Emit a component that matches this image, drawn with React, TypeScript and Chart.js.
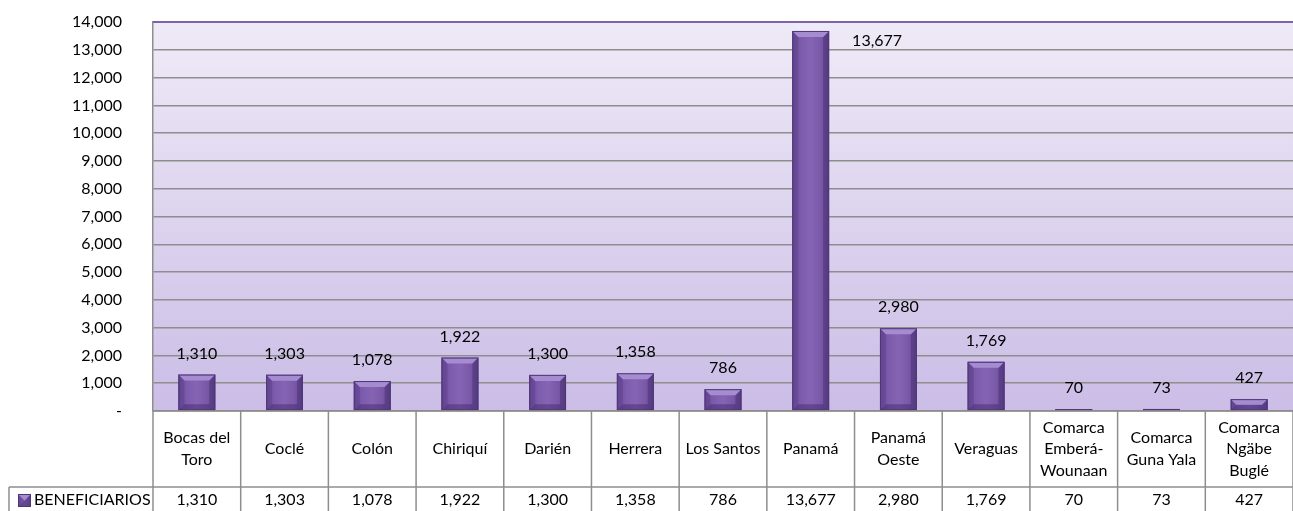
import React, { useEffect, useRef } from "react";
import { Chart, registerables } from "chart.js";

Chart.register(...registerables);

const categories: string[][] = [
  ["Bocas del", "Toro"],
  ["Coclé"],
  ["Colón"],
  ["Chiriquí"],
  ["Darién"],
  ["Herrera"],
  ["Los Santos"],
  ["Panamá"],
  ["Panamá", "Oeste"],
  ["Veraguas"],
  ["Comarca", "Emberá-", "Wounaan"],
  ["Comarca", "Guna Yala"],
  ["Comarca", "Ngäbe", "Buglé"],
];
const values: number[] = [1310, 1303, 1078, 1922, 1300, 1358, 786, 13677, 2980, 1769, 70, 73, 427];
const seriesName = "BENEFICIARIOS";
const yMin = 0;
const yMax = 14000;
const yStep = 1000;

const FONT = "Lato, 'Open Sans', sans-serif";
const FS = 16;
const GRID = "#8e8e8e";

const fmt = (v: number) => (v === 0 ? "-" : v.toLocaleString("en-US"));

function drawBevelBar(ctx: CanvasRenderingContext2D, left: number, top: number, right: number, bottom: number) {
  const w = right - left;
  const h = bottom - top;
  if (h <= 0 || w <= 0) return;
  const b = Math.min(6, h / 2, w / 2);
  const g = ctx.createLinearGradient(left, 0, right, 0);
  g.addColorStop(0, "#6b4c99");
  g.addColorStop(0.25, "#7d5cad");
  g.addColorStop(0.5, "#8564b4");
  g.addColorStop(0.75, "#7b5aaa");
  g.addColorStop(1, "#654794");
  ctx.fillStyle = g;
  ctx.fillRect(left, top, w, h);
  ctx.fillStyle = "rgba(70,45,115,0.25)";
  ctx.beginPath();
  ctx.moveTo(left, top);
  ctx.lineTo(left + b, top + b);
  ctx.lineTo(left + b, bottom - b);
  ctx.lineTo(left, bottom);
  ctx.closePath();
  ctx.fill();
  ctx.fillStyle = "rgba(55,35,95,0.35)";
  ctx.beginPath();
  ctx.moveTo(right, top);
  ctx.lineTo(right - b, top + b);
  ctx.lineTo(right - b, bottom - b);
  ctx.lineTo(right, bottom);
  ctx.closePath();
  ctx.fill();
  ctx.fillStyle = "rgba(60,38,100,0.45)";
  ctx.beginPath();
  ctx.moveTo(left, bottom);
  ctx.lineTo(right, bottom);
  ctx.lineTo(right - b, bottom - b);
  ctx.lineTo(left + b, bottom - b);
  ctx.closePath();
  ctx.fill();
  ctx.fillStyle = "#a58cd0";
  ctx.beginPath();
  ctx.moveTo(left, top);
  ctx.lineTo(right, top);
  ctx.lineTo(right - b, top + b);
  ctx.lineTo(left + b, top + b);
  ctx.closePath();
  ctx.fill();
  ctx.strokeStyle = "#4f3777";
  ctx.lineWidth = 1;
  ctx.strokeRect(left + 0.5, top + 0.5, w - 1, h - 1);
}

const bgPlugin = {
  id: "bgPlugin",
  beforeDraw(chart: any) {
    const { ctx, chartArea: a, width, height } = chart;
    ctx.save();
    ctx.fillStyle = "#ffffff";
    ctx.fillRect(0, 0, width, height);
    const g = ctx.createLinearGradient(0, a.top, 0, a.bottom);
    g.addColorStop(0, "#efeaf7");
    g.addColorStop(1, "#cbbde6");
    ctx.fillStyle = g;
    ctx.fillRect(a.left, a.top, a.right - a.left, a.bottom - a.top);
    ctx.restore();
  },
  afterDatasetsDraw(chart: any) {
    const { ctx, chartArea: a } = chart;
    const meta = chart.getDatasetMeta(0);
    ctx.save();
    ctx.strokeStyle = "#7e62ab";
    ctx.lineWidth = 2;
    ctx.beginPath();
    ctx.moveTo(a.left, a.top);
    ctx.lineTo(a.right, a.top);
    ctx.stroke();
    meta.data.forEach((el: any, i: number) => {
      const p = el.getProps(["x", "y", "base", "width"], true);
      const left = p.x - p.width / 2;
      const right = p.x + p.width / 2;
      drawBevelBar(ctx, left, Math.min(p.y, p.base), right, Math.max(p.y, p.base));
      const label = fmt(values[i]);
      ctx.font = `${FS}px ${FONT}`;
      ctx.fillStyle = "#000";
      ctx.textBaseline = "middle";
      if (p.y - 21 - 10 < a.top) {
        ctx.textAlign = "left";
        ctx.fillText(label, right + 23, p.y + 10);
      } else {
        ctx.textAlign = "center";
        ctx.fillText(label, p.x, p.y - 21);
      }
    });
    ctx.restore();
  },
  afterDraw(chart: any) {
    const { ctx, chartArea: a, height } = chart;
    const xs = chart.scales.x;
    const n = categories.length;
    const bounds: number[] = [a.left];
    for (let i = 0; i < n - 1; i++) {
      bounds.push((xs.getPixelForValue(i) + xs.getPixelForValue(i + 1)) / 2);
    }
    bounds.push(a.right);
    const headerH = 76;
    const rowSep = a.bottom + headerH;
    ctx.save();
    ctx.strokeStyle = GRID;
    ctx.lineWidth = 1.5;
    ctx.beginPath();
    bounds.forEach((bx) => {
      ctx.moveTo(bx, a.bottom);
      ctx.lineTo(bx, height);
    });
    ctx.moveTo(9, rowSep);
    ctx.lineTo(a.right, rowSep);
    ctx.moveTo(9, rowSep);
    ctx.lineTo(9, height);
    ctx.moveTo(a.left, a.bottom);
    ctx.lineTo(a.right, a.bottom);
    ctx.stroke();

    ctx.fillStyle = "#000";
    ctx.font = `${FS}px ${FONT}`;
    ctx.textAlign = "center";
    ctx.textBaseline = "middle";
    const lh = 21.5;
    const hc = (a.bottom + rowSep) / 2;
    categories.forEach((lines, i) => {
      const cx = xs.getPixelForValue(i);
      const start = hc - ((lines.length - 1) * lh) / 2;
      lines.forEach((ln, j) => ctx.fillText(ln, cx, start + j * lh));
      ctx.fillText(fmt(values[i]), cx, rowSep + 13);
    });
    drawBevelBar(ctx, 18, rowSep + 7, 31, rowSep + 20);
    ctx.fillStyle = "#000";
    ctx.textAlign = "left";
    ctx.fillText(seriesName, 34, rowSep + 13);
    ctx.restore();
  },
};

export default function App() {
  const ref = useRef<HTMLCanvasElement | null>(null);
  useEffect(() => {
    document.body.style.margin = "0";
    document.body.style.overflow = "hidden";
    let chart: Chart | null = null;
    let cancelled = false;
    const make = () => {
      if (cancelled || !ref.current) return;
      chart = new Chart(ref.current, {
        type: "bar",
        data: {
          labels: categories,
          datasets: [
            {
              label: seriesName,
              data: values,
              backgroundColor: "#7b5aa8",
              categoryPercentage: 1,
              barPercentage: 0.42,
            },
          ],
        },
        options: {
          responsive: false,
          animation: false,
          devicePixelRatio: 1,
          layout: { padding: { left: 0, right: 0, top: 22, bottom: 100 } },
          plugins: { legend: { display: false }, tooltip: { enabled: false } },
          scales: {
            x: { display: false },
            y: {
              min: yMin,
              max: yMax,
              afterFit: (s: any) => {
                s.width = 153;
              },
              ticks: {
                stepSize: yStep,
                padding: 3,
                color: "#000",
                font: { family: FONT, size: FS },
                callback: (v: any) => fmt(Number(v)),
              },
              grid: {
                color: GRID,
                lineWidth: 1.5,
                drawTicks: true,
                tickLength: 28,
                tickColor: "rgba(0,0,0,0)",
              },
              border: { color: GRID, width: 1.5 },
            },
          },
        },
        plugins: [bgPlugin],
      });
    };
    const fonts: any = (document as any).fonts;
    if (fonts && fonts.load) {
      fonts.load(`${FS}px Lato`).then(make, make);
    } else make();
    return () => {
      cancelled = true;
      if (chart) chart.destroy();
    };
  }, []);
  return <canvas ref={ref} width={1293} height={511} style={{ display: "block" }} />;
}
